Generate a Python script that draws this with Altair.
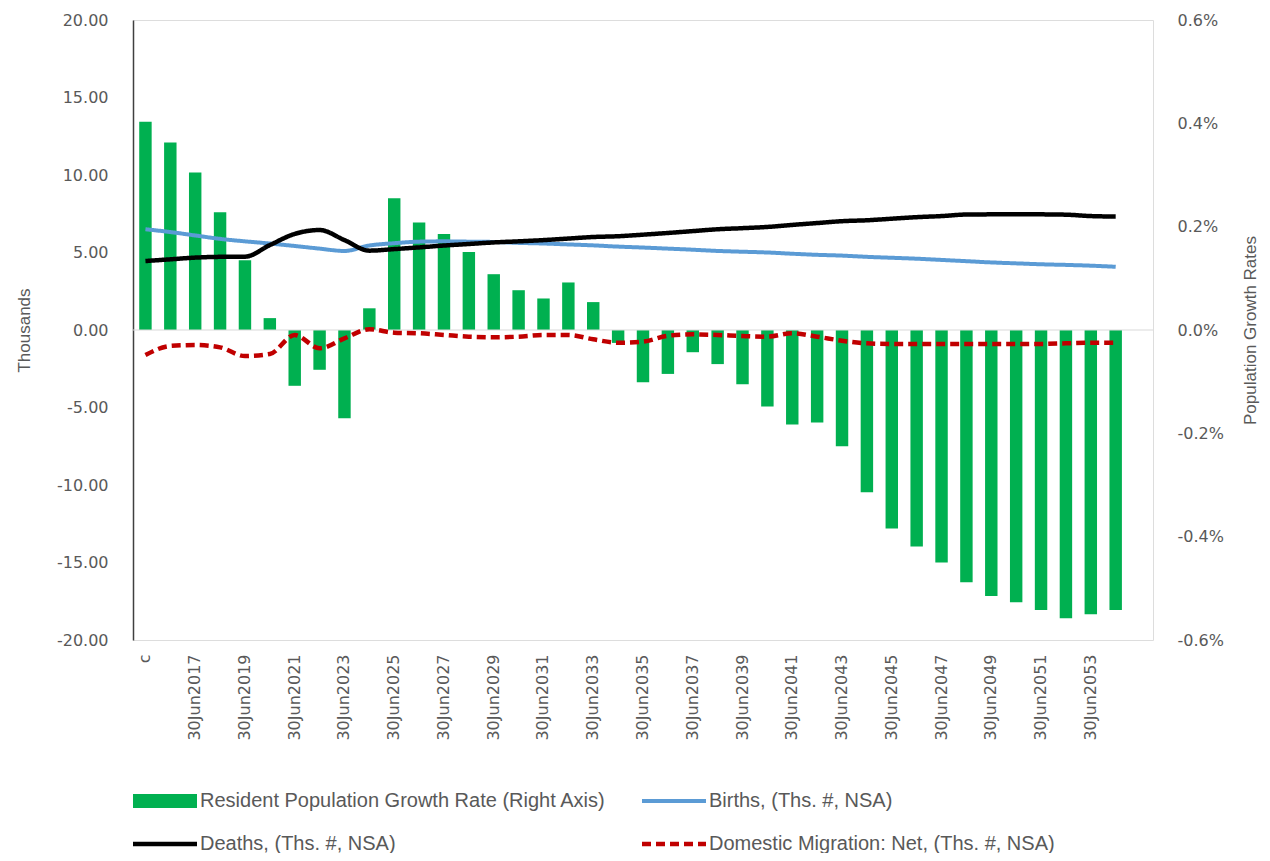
import altair as alt
import pandas as pd

categories = [
    "c", "30Jun2016", "30Jun2017", "30Jun2018", "30Jun2019", "30Jun2020",
    "30Jun2021", "30Jun2022", "30Jun2023", "30Jun2024", "30Jun2025",
    "30Jun2026", "30Jun2027", "30Jun2028", "30Jun2029", "30Jun2030",
    "30Jun2031", "30Jun2032", "30Jun2033", "30Jun2034", "30Jun2035",
    "30Jun2036", "30Jun2037", "30Jun2038", "30Jun2039", "30Jun2040",
    "30Jun2041", "30Jun2042", "30Jun2043", "30Jun2044", "30Jun2045",
    "30Jun2046", "30Jun2047", "30Jun2048", "30Jun2049", "30Jun2050",
    "30Jun2051", "30Jun2052", "30Jun2053", "30Jun2054",
]
pad_category = " "
tick_labels = [
    "c", "30Jun2017", "30Jun2019", "30Jun2021", "30Jun2023", "30Jun2025",
    "30Jun2027", "30Jun2029", "30Jun2031", "30Jun2033", "30Jun2035",
    "30Jun2037", "30Jun2039", "30Jun2041", "30Jun2043", "30Jun2045",
    "30Jun2047", "30Jun2049", "30Jun2051", "30Jun2053",
]

# Resident population growth rate (fraction, right axis)
growth_rate = [
    0.00403, 0.00363, 0.00305, 0.00228, 0.00135, 0.00023, -0.00108, -0.00077,
    -0.00171, 0.00042, 0.00255, 0.00208, 0.00186, 0.00151, 0.00108, 0.00077,
    0.00061, 0.00092, 0.00054, -0.00025, -0.00101, -0.00085, -0.00043, -0.00066,
    -0.00105, -0.00148, -0.00183, -0.00179, -0.00225, -0.00314, -0.00384, -0.00419,
    -0.00450, -0.00488, -0.00515, -0.00527, -0.00542, -0.00558, -0.00550, -0.00542,
]
births = [
    6.50, 6.32, 6.10, 5.88, 5.72, 5.58, 5.42, 5.25, 5.10, 5.45,
    5.60, 5.70, 5.72, 5.70, 5.68, 5.62, 5.58, 5.52, 5.46, 5.38,
    5.32, 5.25, 5.18, 5.10, 5.05, 5.00, 4.92, 4.85, 4.80, 4.72,
    4.66, 4.60, 4.52, 4.44, 4.36, 4.30, 4.24, 4.20, 4.15, 4.08,
]
deaths = [
    4.45, 4.56, 4.67, 4.72, 4.73, 5.48, 6.20, 6.45, 5.80, 5.12,
    5.22, 5.33, 5.45, 5.55, 5.65, 5.72, 5.80, 5.90, 6.00, 6.05,
    6.15, 6.26, 6.38, 6.50, 6.57, 6.65, 6.78, 6.90, 7.02, 7.08,
    7.18, 7.28, 7.35, 7.45, 7.46, 7.46, 7.46, 7.44, 7.35, 7.32,
]
migration = [
    -1.61, -1.03, -0.97, -1.12, -1.68, -1.55, -0.32, -1.18, -0.54, 0.05,
    -0.17, -0.21, -0.32, -0.43, -0.47, -0.43, -0.32, -0.32, -0.60, -0.82,
    -0.75, -0.37, -0.28, -0.32, -0.39, -0.43, -0.21, -0.43, -0.69, -0.86,
    -0.90, -0.90, -0.90, -0.90, -0.90, -0.90, -0.90, -0.86, -0.82, -0.82,
]

series_names = [
    "Resident Population Growth Rate (Right Axis)",
    "Births, (Ths. #, NSA)",
    "Deaths, (Ths. #, NSA)",
    "Domestic Migration: Net, (Ths. #, NSA)",
]
series_colors = ["#00B050", "#5B9BD5", "#000000", "#C00000"]
series_widths = [14, 4, 4.5, 4.5]
series_dashes = [[1, 0], [1, 0], [1, 0], [9, 5]]

bars_df = pd.DataFrame({"cat": categories, "value": growth_rate, "series": series_names[0]})
lines_df = pd.concat([
    pd.DataFrame({"cat": categories, "value": births, "series": series_names[1]}),
    pd.DataFrame({"cat": categories, "value": deaths, "series": series_names[2]}),
    pd.DataFrame({"cat": categories, "value": migration, "series": series_names[3]}),
])

GRAY = "#595959"
TICK_FONT = "DejaVu Sans"
TEXT_FONT = "Liberation Sans"

x_enc = alt.X(
    "cat:N",
    scale=alt.Scale(domain=categories + [pad_category], paddingInner=0.5, paddingOuter=0.25),
    axis=alt.Axis(
        values=tick_labels, labelAngle=270, title=None, domain=False, ticks=False,
        labelPadding=14, labelFont=TICK_FONT, labelFontSize=16, labelColor=GRAY,
        labelOverlap=False,
    ),
)

legend = alt.Legend(
    orient="none", legendX=0, legendY=770.5, columns=2, direction="horizontal",
    title=None, values=series_names, clipHeight=21,
    symbolType="M-3,0H15.29", symbolSize=49, labelFont=TEXT_FONT, labelFontSize=20,
    labelColor=GRAY, labelLimit=700, columnPadding=36, rowPadding=22, labelOffset=46,
)

color_enc = alt.Color("series:N", scale=alt.Scale(domain=series_names, range=series_colors), legend=legend)
width_enc = alt.StrokeWidth(
    "series:N", scale=alt.Scale(type="ordinal", domain=series_names, range=series_widths), legend=legend
)
dash_enc = alt.StrokeDash("series:N", scale=alt.Scale(domain=series_names, range=series_dashes), legend=legend)

right_axis = alt.Axis(
    orient="right", values=[-0.006, -0.004, -0.002, 0, 0.002, 0.004, 0.006],
    labelExpr="replace(format(datum.value, '.1%'), '\u2212', '-')",
    title="Population Growth Rates", titleAngle=270, titleFont=TEXT_FONT, titleFontSize=17,
    titleFontWeight="normal", titleColor=GRAY, titlePadding=36,
    domain=False, ticks=False, grid=False, labelPadding=24,
    labelFont=TICK_FONT, labelFontSize=16, labelColor=GRAY,
)
left_axis = alt.Axis(
    orient="left", values=[-20, -15, -10, -5, 0, 5, 10, 15, 20],
    labelExpr="replace(format(datum.value, '.2f'), '\u2212', '-')",
    title="Thousands", titleFont=TEXT_FONT, titleFontSize=17, titleFontWeight="normal",
    titleColor=GRAY, titlePadding=23,
    domain=True, domainColor="#404040", domainWidth=1.5, ticks=False, grid=False,
    labelPadding=25, labelFont=TICK_FONT, labelFontSize=16, labelColor=GRAY,
)

bars = alt.Chart(bars_df).mark_bar().encode(
    x=x_enc,
    y=alt.Y("value:Q", scale=alt.Scale(domain=[-0.006, 0.006], nice=False), axis=right_axis),
    color=color_enc,
)

zero_rule = alt.Chart(pd.DataFrame({"v": [0]})).mark_rule(color="#D9D9D9", strokeWidth=1.2).encode(
    y=alt.Y("v:Q", scale=alt.Scale(domain=[-20, 20], nice=False), axis=left_axis),
)

lines = alt.Chart(lines_df).mark_line(interpolate="monotone").encode(
    x=x_enc,
    y=alt.Y("value:Q", scale=alt.Scale(domain=[-20, 20], nice=False), axis=left_axis),
    color=color_enc,
    strokeWidth=width_enc,
    strokeDash=dash_enc,
)

left_layer = alt.layer(zero_rule, lines)

chart = (
    alt.layer(bars, left_layer)
    .resolve_scale(y="independent")
    .properties(
        width=1020, height=620,
        autosize=alt.AutoSizeParams(type="none"),
        padding={"left": 125, "top": 12, "right": 109, "bottom": 213},
    )
    .configure_view(stroke=None)
    .configure(background="white")
)

chart.save("out.html", embed_options={"renderer": "svg", "actions": False})
